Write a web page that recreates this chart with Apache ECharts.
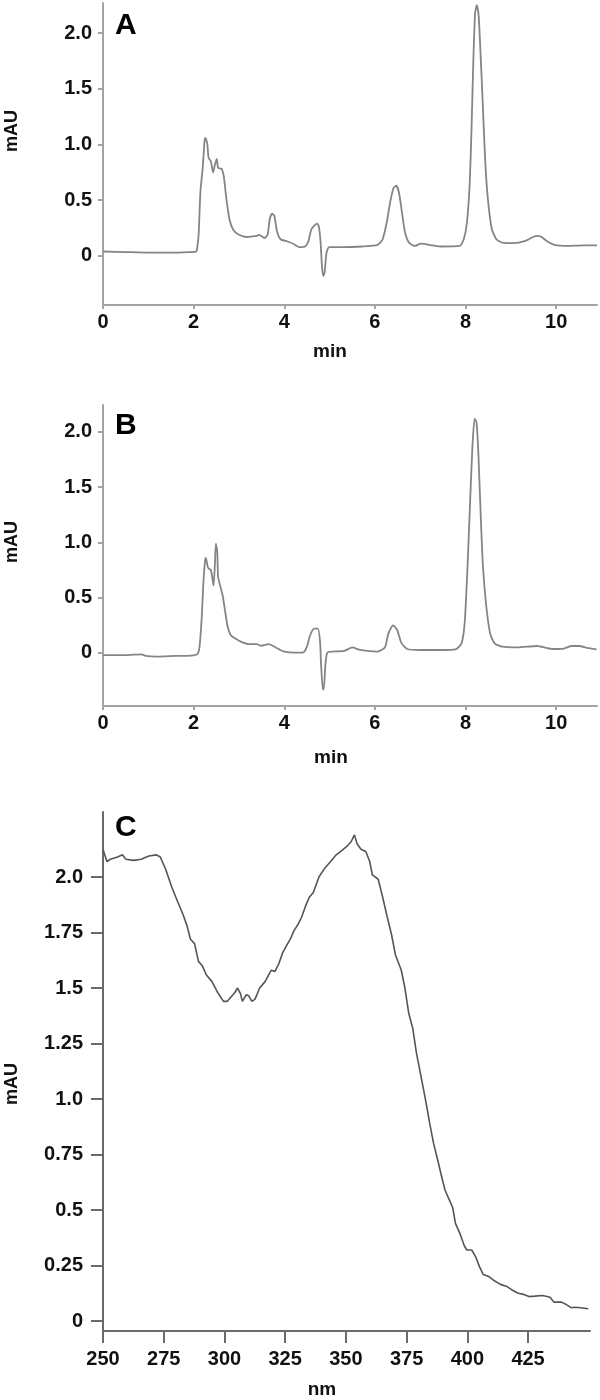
<!DOCTYPE html>
<html>
<head>
<meta charset="utf-8">
<script src="https://cdn.jsdelivr.net/npm/echarts@6/dist/echarts.min.js"></script>
<style>
html,body{margin:0;padding:0;background:#fff;}
#chart{width:600px;height:1400px;}
</style>
</head>
<body>
<div id="chart"></div>
<script>
// ---- Panel A: chromatogram (min vs mAU)
const aTime = [0,0.5,1.0,1.5,1.9,2.05,2.07,2.11,2.15,2.2,2.24,2.26,2.3,2.33,2.38,2.43,2.47,2.51,2.54,2.62,2.67,2.72,2.79,2.88,3.0,3.17,3.39,3.45,3.56,3.63,3.68,3.73,3.78,3.84,3.92,4.07,4.2,4.33,4.46,4.53,4.6,4.72,4.76,4.8,4.83,4.86,4.89,4.93,4.99,5.28,5.71,6.06,6.17,6.26,6.34,6.41,6.47,6.53,6.59,6.66,6.75,6.88,7.01,7.44,7.87,7.96,8.03,8.09,8.13,8.17,8.21,8.25,8.29,8.33,8.38,8.43,8.49,8.58,8.68,8.81,9.06,9.32,9.49,9.57,9.66,9.79,9.96,10.26,10.6,10.9];
const aMAU  = [0.04,0.035,0.03,0.03,0.035,0.04,0.05,0.19,0.58,0.79,1.03,1.06,1.01,0.88,0.85,0.75,0.82,0.87,0.79,0.78,0.70,0.52,0.33,0.23,0.19,0.17,0.18,0.19,0.16,0.19,0.33,0.38,0.36,0.22,0.15,0.13,0.11,0.08,0.085,0.13,0.24,0.29,0.27,0.13,-0.085,-0.18,-0.15,0.025,0.08,0.08,0.085,0.10,0.15,0.30,0.49,0.61,0.63,0.57,0.41,0.22,0.12,0.09,0.11,0.085,0.09,0.15,0.30,0.64,1.12,1.73,2.18,2.25,2.15,1.82,1.36,0.88,0.52,0.24,0.15,0.12,0.115,0.135,0.17,0.18,0.175,0.135,0.10,0.09,0.095,0.095];

// ---- Panel B: chromatogram (min vs mAU)
const bTime = [0,0.5,0.85,0.94,1.18,1.6,1.94,2.08,2.13,2.18,2.21,2.25,2.27,2.31,2.34,2.38,2.42,2.44,2.47,2.49,2.52,2.54,2.59,2.64,2.69,2.75,2.82,2.92,3.05,3.22,3.39,3.49,3.66,3.81,3.98,4.24,4.42,4.5,4.57,4.66,4.74,4.79,4.81,4.85,4.87,4.91,4.95,5.06,5.32,5.5,5.67,6.06,6.22,6.3,6.4,6.49,6.58,6.71,7.01,7.44,7.78,7.91,7.98,8.04,8.09,8.15,8.2,8.24,8.28,8.33,8.38,8.45,8.54,8.64,8.81,9.15,9.57,9.91,10.17,10.34,10.51,10.68,10.89];
const bMAU  = [-0.02,-0.02,-0.012,-0.027,-0.033,-0.027,-0.024,-0.01,0.057,0.33,0.6,0.83,0.86,0.78,0.76,0.75,0.66,0.61,0.81,0.99,0.92,0.69,0.6,0.52,0.39,0.24,0.16,0.13,0.10,0.08,0.08,0.065,0.08,0.05,0.015,0.003,0.006,0.057,0.16,0.22,0.22,0.10,-0.09,-0.33,-0.33,-0.09,0.003,0.012,0.018,0.05,0.027,0.012,0.05,0.18,0.25,0.21,0.093,0.036,0.027,0.027,0.033,0.087,0.27,0.75,1.26,1.86,2.12,2.09,1.83,1.29,0.81,0.45,0.18,0.087,0.057,0.05,0.063,0.036,0.04,0.063,0.063,0.045,0.033];

// ---- Panel C: UV spectrum (nm vs mAU)
const cNm  = [250,251.6,253,256,258,259.4,262.6,265.7,266.5,268.9,272,273.6,275.8,278.3,280.7,283,284.6,286,287.7,289.3,290.9,292.5,294.8,297.2,299.6,301.2,302.7,304.3,305.4,306.6,307.4,309,310,311.3,312.6,314.5,316.8,319.2,320.8,322.4,324,325.5,327.1,328.7,330.2,331.8,333.4,335,336.6,338.9,341.3,343.7,346,348.4,350.6,352.2,353.5,354.6,356.2,358.2,359.8,360.9,363.3,364.9,366.8,368.8,370.4,372.8,374.3,375.9,377.5,379,380.6,382.2,383.4,384.5,386.1,387.7,389.2,390.8,392.4,394,395.1,397.1,398.7,399.8,401.8,403.4,405,406.5,408.9,411.3,413.6,416,418.4,420.7,423,425.4,427.8,431,434.1,435.6,438.8,440.3,442.7,444.3,446.6,449.8];
const cMAU = [2.125,2.07,2.08,2.09,2.10,2.08,2.075,2.08,2.075,2.095,2.10,2.09,2.035,1.955,1.89,1.83,1.78,1.72,1.70,1.62,1.60,1.56,1.53,1.48,1.44,1.44,1.46,1.48,1.50,1.475,1.44,1.47,1.465,1.44,1.45,1.50,1.53,1.58,1.575,1.61,1.66,1.69,1.72,1.76,1.785,1.82,1.87,1.91,1.93,2.0,2.04,2.07,2.10,2.12,2.14,2.16,2.19,2.15,2.125,2.115,2.07,2.01,1.99,1.92,1.83,1.74,1.65,1.58,1.50,1.385,1.32,1.21,1.12,1.03,0.96,0.89,0.80,0.73,0.66,0.59,0.55,0.51,0.44,0.39,0.34,0.32,0.32,0.29,0.245,0.21,0.20,0.18,0.165,0.157,0.14,0.126,0.12,0.11,0.112,0.115,0.107,0.085,0.085,0.077,0.06,0.062,0.06,0.055];

// ---- Tick values / labels
const abYTicks = [0, 0.5, 1.0, 1.5, 2.0];
const abYLabels = ['0', '0.5', '1.0', '1.5', '2.0'];
const abXTicks = [0, 2, 4, 6, 8, 10];
const cYTicks = [0, 0.25, 0.5, 0.75, 1.0, 1.25, 1.5, 1.75, 2.0];
const cYLabels = ['0', '0.25', '0.5', '0.75', '1.0', '1.25', '1.5', '1.75', '2.0'];
const cXTicks = [250, 275, 300, 325, 350, 375, 400, 425];
const panelLetters = ['A', 'B', 'C'];
const xTitles = ['min', 'min', 'nm'];
const yTitle = 'mAU';

const zip = (xs, ys) => xs.map((x, i) => [x, ys[i]]);
const FONT = '"Liberation Sans", Arial, sans-serif';
const lblStyle = {fontFamily: FONT, fontWeight: 'bold', fontSize: 20, color: '#111'};

function labelFrom(ticks, labels) {
  return v => {
    for (let i = 0; i < ticks.length; i++) if (Math.abs(ticks[i] - v) < 1e-6) return labels[i];
    return '';
  };
}

const lightAxis = '#a3a3a3';
const darkAxis = '#6a6a6a';

function xAxisAB(gi) {
  return {
    type: 'value', gridIndex: gi, min: 0, max: 10.9,
    axisLine: {onZero: false, lineStyle: {color: lightAxis, width: 2}},
    axisTick: {customValues: abXTicks, length: 4, lineStyle: {color: lightAxis, width: 2}},
    axisLabel: Object.assign({customValues: abXTicks, margin: 7, formatter: v => String(v)}, lblStyle),
    splitLine: {show: false}
  };
}
function yAxisAB(gi, mn, mx) {
  return {
    type: 'value', gridIndex: gi, min: mn, max: mx,
    axisLine: {show: true, onZero: false, lineStyle: {color: lightAxis, width: 2}},
    axisTick: {show: true, customValues: abYTicks, length: 5, lineStyle: {color: lightAxis, width: 2}},
    axisLabel: Object.assign({customValues: abYTicks, margin: 11, formatter: labelFrom(abYTicks, abYLabels)}, lblStyle),
    splitLine: {show: false}
  };
}

const graphics = [];
const letterPos = [[115, 26], [115, 426], [115, 828]];
letterPos.forEach((p, i) => graphics.push({
  type: 'text', left: p[0], top: p[1] - 15,
  style: {text: panelLetters[i], font: 'bold 30px ' + FONT, fill: '#000'}
}));
const xTitlePos = [[330, 352], [331, 758], [322, 1390]];
xTitlePos.forEach((p, i) => graphics.push({
  type: 'text', x: p[0], y: p[1],
  style: {text: xTitles[i], font: 'bold 19px ' + FONT, fill: '#111', align: 'center', verticalAlign: 'middle'}
}));
const yTitlePos = [[12, 131], [12, 542], [12, 1084]];
yTitlePos.forEach(p => graphics.push({
  type: 'text', x: p[0], y: p[1], rotation: Math.PI / 2,
  style: {text: yTitle, font: 'bold 18px ' + FONT, fill: '#111', align: 'center', verticalAlign: 'middle'}
}));

const option = {
  animation: false,
  backgroundColor: '#fff',
  grid: [
    {left: 103, top: 3, width: 494, height: 302},
    {left: 103, top: 405, width: 494, height: 301},
    {left: 103, top: 812, width: 487, height: 519}
  ],
  xAxis: [
    xAxisAB(0),
    xAxisAB(1),
    {
      type: 'value', gridIndex: 2, min: 250, max: 450.5,
      axisLine: {onZero: false, lineStyle: {color: darkAxis, width: 2}},
      axisTick: {customValues: cXTicks, length: 12, lineStyle: {color: darkAxis, width: 2}},
      axisLabel: Object.assign({customValues: cXTicks, margin: 18, formatter: v => String(v)}, lblStyle),
      splitLine: {show: false}
    }
  ],
  yAxis: [
    yAxisAB(0, -0.44, 2.27),
    yAxisAB(1, -0.48, 2.244),
    {
      type: 'value', gridIndex: 2, min: -0.045, max: 2.293,
      axisLine: {show: true, onZero: false, lineStyle: {color: darkAxis, width: 2}},
      axisTick: {show: true, customValues: cYTicks, length: 12, lineStyle: {color: darkAxis, width: 2}},
      axisLabel: Object.assign({customValues: cYTicks, margin: 20, formatter: labelFrom(cYTicks, cYLabels)}, lblStyle),
      splitLine: {show: false}
    }
  ],
  series: [
    {type: 'line', xAxisIndex: 0, yAxisIndex: 0, data: zip(aTime, aMAU), showSymbol: false, smooth: 0.2,
     lineStyle: {color: '#858585', width: 1.8}},
    {type: 'line', xAxisIndex: 1, yAxisIndex: 1, data: zip(bTime, bMAU), showSymbol: false, smooth: 0.2,
     lineStyle: {color: '#858585', width: 1.8}},
    {type: 'line', xAxisIndex: 2, yAxisIndex: 2, data: zip(cNm, cMAU), showSymbol: false,
     lineStyle: {color: '#555', width: 1.6}}
  ],
  graphic: graphics
};

const chart = echarts.init(document.getElementById('chart'), null, {renderer: 'canvas'});
chart.setOption(option);
</script>
</body>
</html>
